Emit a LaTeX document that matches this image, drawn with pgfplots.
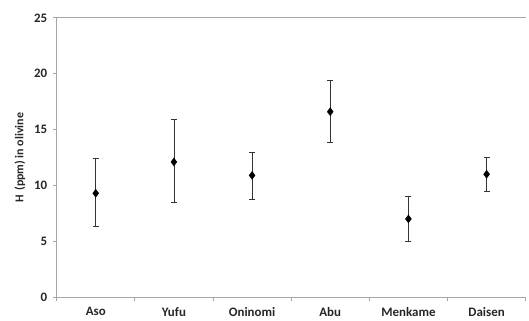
\documentclass[border=0pt]{standalone}
\usepackage{pgfplots}
\pgfplotsset{compat=1.18}
\usepackage{pgfplotstable}
\usepackage{fontspec}
\setmainfont{Carlito}
\definecolor{axgray}{HTML}{A6A6A6}
\pgfplotstableread{
x y ep em
0.5 9.3 3.1 3.0
1.5 12.1 3.8 3.65
2.5 10.9 2.05 2.1
3.5 16.6 2.8 2.7
4.5 7.0 2.05 2.0
5.5 11.0 1.55 1.5
}\datatab
\begin{document}
\begin{tikzpicture}[x=1pt,y=1pt]
\begin{axis}[
  at={(0,0)}, anchor=south west,
  scale only axis, width=472pt, height=281pt,
  xmin=0, xmax=6, ymin=0, ymax=25,
  axis x line*=bottom, axis y line*=left,
  axis line style={axgray, line width=1.2pt, -},
  xtick={0,1,...,6}, xticklabels={},
  extra x ticks={0.5,1.5,2.5,3.5,4.5,5.5},
  extra x tick labels={Aso,Yufu,Oninomi,Abu,Menkame,Daisen},
  extra x tick style={major tick length=0pt, xticklabel style={yshift=-7pt}},
  ytick={0,5,...,25},
  tick align=outside,
  major tick length=4pt,
  tick style={axgray, line width=0.8pt},
  /pgf/number format/assume math mode=true,
  ticklabel style={font=\bfseries\fontsize{13}{14}\selectfont, text=black!85},
  yticklabel style={xshift=-2pt},
  ylabel={H\,\,(ppm) in olivine},
  ylabel style={font=\bfseries\fontsize{12}{13}\selectfont, text=black!85, yshift=2pt},
  clip=false,
]
\draw[axgray, line width=1.2pt] (rel axis cs:0,1) -- (rel axis cs:1,1);
\addplot[only marks, mark=diamond*, mark size=4pt, black,
  error bars/.cd, y dir=both, y explicit,
  error bar style={black!80, line width=0.6pt},
  error mark options={rotate=90, mark size=3pt, black!80, line width=0.6pt}]
  table[x=x, y=y, y error plus=ep, y error minus=em] {\datatab};
\end{axis}
\useasboundingbox (-57pt,-22pt) rectangle (472pt,299pt);
\end{tikzpicture}
\end{document}
